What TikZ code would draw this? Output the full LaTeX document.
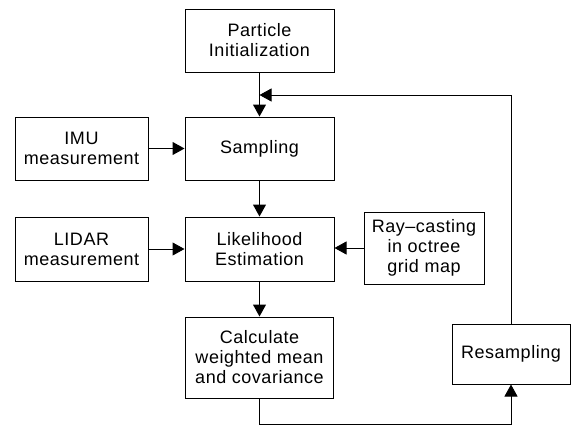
\documentclass[tikz,border=0pt]{standalone}
\usepackage{fontspec}
\setmainfont{Liberation Sans}[LetterSpace=3]
\usetikzlibrary{arrows.meta}
\begin{document}
\begin{tikzpicture}[x=1pt,y=-1pt,
  box/.style={draw=black,line width=1pt,align=center,inner sep=0pt,
    font=\fontsize{18pt}{20pt}\selectfont},
  arr/.style={line width=1pt,-{Triangle[length=12pt,width=13pt]}},
  ln/.style={line width=1pt}]
\useasboundingbox (0,0) rectangle (572,434);
\node[box,minimum width=149pt,minimum height=63pt] (init) at (259.5,40.5) {Particle\\Initialization};
\node[box,minimum width=149pt,minimum height=63pt] (samp) at (259.5,148.5) {Sampling};
\node[box,minimum width=133pt,minimum height=63pt] (imu) at (81.5,148.5) {IMU\\measurement};
\node[box,minimum width=133pt,minimum height=64pt] (lidar) at (81.5,249) {LIDAR\\measurement};
\node[box,minimum width=149pt,minimum height=64pt] (like) at (259.5,249) {Likelihood\\Estimation};
\node[box,minimum width=120pt,minimum height=72pt] (ray) at (424,248) {Ray--casting\\in octree\\grid map};
\node[box,minimum width=148pt,minimum height=81pt] (calc) at (259.5,357.5) {Calculate\\weighted mean\\and covariance};
\node[box,minimum width=118pt,minimum height=60pt] (res) at (511,354) {Resampling};
\coordinate (j) at (259.5,95);
\coordinate (b) at (259.5,424);
\draw[arr] (init.south) -- (samp.north);
\draw[arr] (res.north) |- (j);
\draw[arr] (imu.east) -- (samp.west);
\draw[arr] (samp.south) -- (like.north);
\draw[arr] (lidar.east) -- (like.west);
\draw[arr] (ray.west) -- (ray.west -| like.east);
\draw[arr] (like.south) -- (calc.north);
\draw[arr] (calc.south) -- (b) -| (res.south);
\end{tikzpicture}
\end{document}
